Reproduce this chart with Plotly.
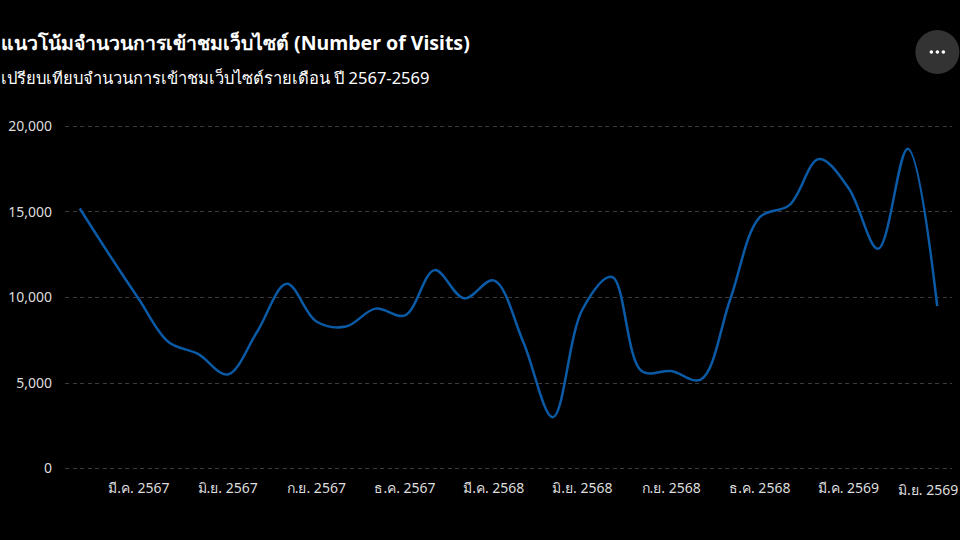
import plotly.graph_objects as go

# monthly visits, ม.ค. 2567 - มิ.ย. 2569
thai_months = ['ม.ค.', 'ก.พ.', 'มี.ค.', 'เม.ย.', 'พ.ค.', 'มิ.ย.',
               'ก.ค.', 'ส.ค.', 'ก.ย.', 'ต.ค.', 'พ.ย.', 'ธ.ค.']
years = ['2567', '2568', '2569']
months = [f'{m} {y}' for y in years for m in thai_months][:30]

visits = [15200, 12500, 9900, 7400, 6700, 5500, 8000, 10800, 8600, 8300,
          9350, 8950, 11600, 9950, 11000, 7400, 3000, 9300, 11200, 5700,
          5700, 5200, 9900, 14700, 15400, 18100, 16400, 12850, 18700, 9500]

tick_months = months[2::3]
y_ticks = [0, 5000, 10000, 15000, 20000]

title_text = 'แนวโน้มจำนวนการเข้าชมเว็บไซต์ (Number of Visits)'
subtitle_text = 'เปรียบเทียบจำนวนการเข้าชมเว็บไซต์รายเดือน ปี 2567-2569'

FONT = 'Noto Sans, Segoe UI, sans-serif'

fig = go.Figure()
fig.add_trace(go.Scatter(
    x=months, y=visits, mode='lines',
    line=dict(color='#0b5aa6', width=2.5, shape='spline', smoothing=1),
    showlegend=False,
))

fig.update_layout(
    width=960, height=540,
    paper_bgcolor='black', plot_bgcolor='black',
    margin=dict(l=62, r=8, t=123, b=68),
    font=dict(family=FONT, color='#dddddd', size=14),
)
# last tick label is drawn separately so it can sit inside the page
fig.update_xaxes(
    type='category', range=[-0.5, 29.5],
    tickvals=tick_months, ticktext=tick_months[:-1] + [''],
    showgrid=False, zeroline=False, showline=False, ticks='',
    ticklabelstandoff=6,
    tickfont=dict(size=14, color='#dddddd'),
)
fig.update_yaxes(
    range=[-200, 20200], tickvals=y_ticks, tickformat=',',
    showgrid=True, gridcolor='#3c3c3c', griddash='4px,3.5px', gridwidth=1,
    zeroline=False, showline=False, ticks='', ticklabelstandoff=12,
    tickfont=dict(size=14, color='#dddddd'),
)
fig.add_annotation(text=tick_months[-1], x=tick_months[-1], xref='x',
                   y=0, yref='paper', yanchor='top', yshift=-6, xshift=-9,
                   showarrow=False, font=dict(size=14, color='#dddddd'))

# title + subtitle, flush left with the page
fig.add_annotation(text=f'<b>{title_text}</b>', xref='paper', yref='paper',
                   x=-62 / 890, y=1.232, xanchor='left', yanchor='middle',
                   xshift=-4, showarrow=False,
                   font=dict(size=19.5, color='white'))
fig.add_annotation(text=subtitle_text, xref='paper', yref='paper',
                   x=-62 / 890, y=1.1318, xanchor='left', yanchor='middle',
                   xshift=-4, showarrow=False,
                   font=dict(size=16.5, color='white'))

# "more options" button, top right
btn_x, btn_y = 0.9835, 1.2034
fig.add_shape(type='circle', xref='paper', yref='paper',
              xsizemode='pixel', ysizemode='pixel',
              xanchor=btn_x, yanchor=btn_y,
              x0=-22, x1=22, y0=-22, y1=22,
              fillcolor='#333333', line=dict(width=0))
for dx in (-6, 0, 6):
    fig.add_shape(type='circle', xref='paper', yref='paper',
                  xsizemode='pixel', ysizemode='pixel',
                  xanchor=btn_x, yanchor=btn_y,
                  x0=dx - 1.8, x1=dx + 1.8, y0=-1.8, y1=1.8,
                  fillcolor='white', line=dict(width=0))

fig.write_html('out.html', config={'displayModeBar': False},
               post_script="document.body.style.margin='0';")
